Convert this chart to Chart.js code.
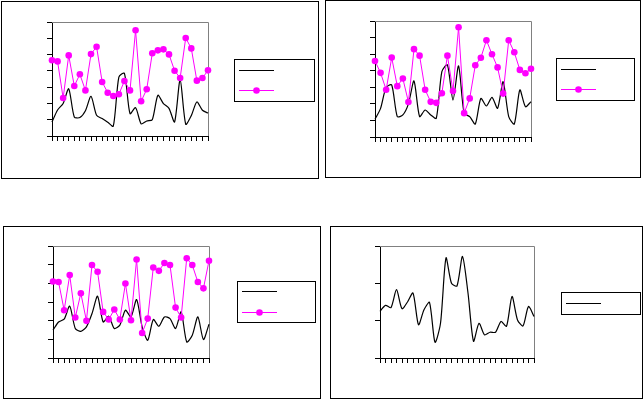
<!DOCTYPE html>
<html>
<head>
<meta charset="utf-8">
<script src="https://cdn.jsdelivr.net/npm/chart.js@4.4.0/dist/chart.umd.min.js"></script>
<style>
  html, body { margin: 0; padding: 0; background: #fff; }
  body { width: 644px; height: 399px; position: relative; overflow: hidden; }
  .panel { position: absolute; box-sizing: border-box; border: 1px solid #000; background: #fff; }
  .panel canvas { display: block; }
</style>
</head>
<body>
<div class="panel" id="p1"><canvas id="c1"></canvas></div>
<div class="panel" id="p2"><canvas id="c2"></canvas></div>
<div class="panel" id="p3"><canvas id="c3"></canvas></div>
<div class="panel" id="p4"><canvas id="c4"></canvas></div>
<script>
// 29 categories, no labels shown on the axis
const categories = ['1','2','3','4','5','6','7','8','9','10','11','12','13','14','15',
  '16','17','18','19','20','21','22','23','24','25','26','27','28','29'];

// top left
const black1 = [0.86, 1.6, 2.0, 2.9, 1.17, 1.13, 1.55, 2.44, 1.27, 1.07, 0.85, 0.6, 3.62, 3.85, 1.37,
  1.74, 0.75, 0.92, 1.0, 2.5, 1.99, 1.7, 0.86, 3.46, 0.72, 1.25, 2.09, 1.58, 1.41];
const pink1 = [4.65, 4.58, 2.33, 4.95, 3.07, 3.79, 2.8, 5.03, 5.48, 3.32, 2.66, 2.46, 2.56, 3.38, 2.8,
  6.49, 2.13, 2.87, 5.08, 5.26, 5.32, 5.01, 4.01, 3.56, 6.02, 5.38, 3.4, 3.56, 4.03];

// top right
const black2 = [1.07, 1.73, 3.0, 3.14, 1.23, 1.33, 2.0, 3.38, 1.23, 1.63, 1.33, 1.13, 3.94, 4.35, 2.23,
  4.29, 1.43, 1.23, 0.78, 2.33, 1.87, 2.39, 1.73, 3.34, 1.23, 0.78, 2.84, 1.83, 2.13];
const pink2 = [4.59, 3.87, 2.85, 4.79, 3.07, 3.53, 2.11, 5.3, 4.91, 2.85, 2.12, 2.06, 2.64, 4.91, 2.77,
  6.62, 1.44, 2.33, 4.33, 4.78, 5.84, 4.99, 4.2, 2.62, 5.84, 5.11, 4.05, 3.85, 4.12];

// bottom left
const black3 = [1.49, 1.93, 2.08, 2.78, 1.58, 1.43, 1.67, 2.38, 3.31, 1.93, 2.24, 1.58, 1.76, 2.56, 2.2,
  3.13, 1.67, 0.95, 2.06, 1.7, 2.2, 2.11, 1.58, 2.47, 0.86, 1.22, 2.2, 0.99, 1.81];
const pink3 = [4.1, 4.07, 2.56, 4.44, 2.17, 3.47, 1.99, 4.98, 4.62, 2.47, 2.06, 2.6, 2.06, 3.99, 2.02,
  5.28, 1.34, 2.11, 4.85, 4.67, 5.09, 4.98, 2.7, 2.17, 5.34, 4.98, 4.07, 3.73, 5.21];

// bottom right
const black4 = [1.25, 1.41, 1.35, 1.83, 1.32, 1.5, 1.74, 0.89, 1.29, 1.49, 0.42, 0.93, 2.68, 2.0, 1.93,
  2.72, 1.74, 0.45, 0.93, 0.62, 0.69, 0.69, 0.98, 0.85, 1.65, 1.02, 0.86, 1.38, 1.11];

const yMax1 = 7, yMax2 = 7, yMax3 = 6, yMax4 = 3;

// gray top / right edge of the plot area
const frame = {
  id: 'frame',
  beforeDatasetsDraw(chart) {
    const { ctx, chartArea: a } = chart;
    ctx.save();
    ctx.strokeStyle = '#808080';
    ctx.lineWidth = 1;
    ctx.beginPath();
    ctx.moveTo(Math.round(a.left), Math.round(a.top) + 0.5);
    ctx.lineTo(Math.round(a.right) + 0.5, Math.round(a.top) + 0.5);
    ctx.lineTo(Math.round(a.right) + 0.5, Math.round(a.bottom));
    ctx.stroke();
    ctx.restore();
  }
};

// boxed legend with line samples and no text
const boxLegend = {
  id: 'boxLegend',
  afterDraw(chart, args, o) {
    const ctx = chart.ctx;
    ctx.save();
    ctx.strokeStyle = '#000';
    ctx.lineWidth = 1;
    ctx.strokeRect(o.x + 0.5, o.y + 0.5, o.w, o.h);
    chart.data.datasets.forEach((d, i) => {
      const y = o.y + o.rows[i] + 0.5;
      ctx.strokeStyle = d.borderColor;
      ctx.lineWidth = d.borderWidth;
      ctx.beginPath();
      ctx.moveTo(o.x + 5, y);
      ctx.lineTo(o.x + 40, y);
      ctx.stroke();
      if (d.pointRadius > 0) {
        ctx.fillStyle = d.pointBackgroundColor;
        ctx.beginPath();
        ctx.arc(o.x + 22.5, y, d.pointRadius, 0, Math.PI * 2);
        ctx.fill();
      }
    });
    ctx.restore();
  }
};

function blackSet(values) {
  return { data: values, borderColor: '#000', borderWidth: 1.2, pointRadius: 0, tension: 0.25, order: 1, clip: false };
}
function pinkSet(values) {
  return { data: values, borderColor: '#FF00FF', borderWidth: 1, pointRadius: 3.3, pointBorderWidth: 0,
    pointBackgroundColor: '#FF00FF', tension: 0, order: 0, clip: false };
}

// box = panel border [l,t,r,b], plot = plot area [l,t,r,b], legend = [l,t,r,b] (page pixels)
function makePanel(id, box, plot, legend, rows, yMax, datasets) {
  const div = document.getElementById('p' + id);
  div.style.left = box[0] + 'px';
  div.style.top = box[1] + 'px';
  div.style.width = (box[2] - box[0] + 1) + 'px';
  div.style.height = (box[3] - box[1] + 1) + 'px';
  const ox = box[0] + 1, oy = box[1] + 1;
  const W = box[2] - box[0] - 1, H = box[3] - box[1] - 1;
  const canvas = document.getElementById('c' + id);
  canvas.width = W;
  canvas.height = H;
  const tick = 5;
  const gridOpts = { drawOnChartArea: false, drawTicks: true, tickLength: tick, color: '#000', tickColor: '#000', tickWidth: 1 };
  new Chart(canvas, {
    type: 'line',
    data: { labels: categories, datasets: datasets },
    options: {
      responsive: false,
      animation: false,
      devicePixelRatio: 1,
      layout: {
        autoPadding: false,
        padding: {
          left: plot[0] - ox - tick,
          top: plot[1] - oy,
          right: W - (plot[2] - ox),
          bottom: H - (plot[3] - oy) - tick
        }
      },
      plugins: {
        legend: { display: false },
        tooltip: { enabled: false },
        boxLegend: { x: legend[0] - ox, y: legend[1] - oy, w: legend[2] - legend[0], h: legend[3] - legend[1], rows: rows }
      },
      scales: {
        x: {
          type: 'category', offset: false,
          ticks: { display: false },
          grid: gridOpts,
          border: { color: '#000', width: 1 },
          afterFit(s) { s.height = tick; }
        },
        y: {
          min: 0, max: yMax,
          ticks: { display: false, stepSize: 1 },
          grid: gridOpts,
          border: { color: '#000', width: 1 },
          afterFit(s) { s.width = tick; }
        }
      }
    },
    plugins: [frame, boxLegend]
  });
}

makePanel(1, [1, 1, 318, 178], [52, 22, 208, 136], [234, 59, 314, 101], [11, 31], yMax1,
  [blackSet(black1), pinkSet(pink1)]);
makePanel(2, [325, 0, 640, 177], [375, 21, 531, 137], [556, 58, 634, 100], [11, 31], yMax2,
  [blackSet(black2), pinkSet(pink2)]);
makePanel(3, [3, 226, 320, 398], [53, 246, 209, 358], [237, 281, 315, 322], [10, 31], yMax3,
  [blackSet(black3), pinkSet(pink3)]);
makePanel(4, [330, 226, 642, 398], [380, 246, 534, 358], [561, 292, 640, 314], [11], yMax4,
  [blackSet(black4)]);
</script>
</body>
</html>
